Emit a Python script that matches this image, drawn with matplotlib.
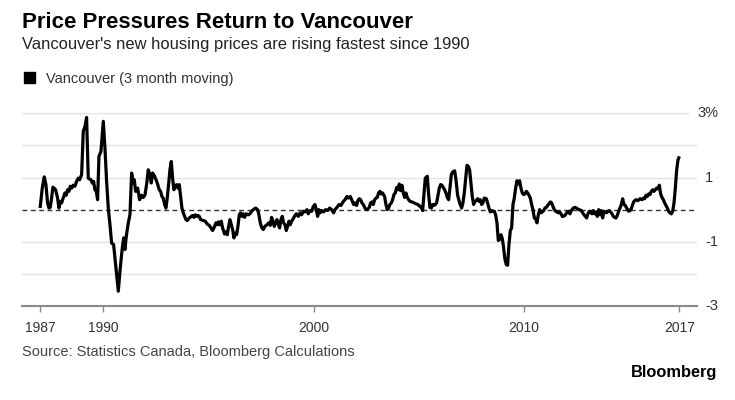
#!/usr/bin/env python3
"""Vancouver new housing price index, 3 month moving % change (Bloomberg style)."""

import matplotlib
matplotlib.use('Agg')
import matplotlib.pyplot as plt
from matplotlib.patches import Rectangle

plt.rcParams['font.family'] = ['Liberation Sans', 'DejaVu Sans']

# values (decimal year, percent)
YEARS = [
    1987.000, 1987.103, 1987.198, 1987.277, 1987.356, 1987.420, 1987.483, 1987.546, 1987.610, 1987.737,
    1987.832, 1987.895, 1987.958, 1988.022, 1988.101, 1988.180, 1988.244, 1988.307, 1988.370, 1988.434,
    1988.497, 1988.576, 1988.656, 1988.735, 1988.814, 1988.878, 1988.973, 1989.052, 1989.131, 1989.210,
    1989.290, 1989.416, 1989.480, 1989.543, 1989.607, 1989.670, 1989.733, 1989.797, 1989.892, 1990.003,
    1990.082, 1990.161, 1990.241, 1990.336, 1990.399, 1990.494, 1990.621, 1990.716, 1990.811, 1990.906,
    1990.970, 1991.033, 1991.096, 1991.192, 1991.271, 1991.350, 1991.429, 1991.477, 1991.540, 1991.635,
    1991.730, 1991.823, 1991.902, 1991.982, 1992.061, 1992.140, 1992.219, 1992.283, 1992.346, 1992.441,
    1992.505, 1992.568, 1992.663, 1992.727, 1992.790, 1992.853, 1992.917, 1992.980, 1993.043, 1993.107,
    1993.170, 1993.234, 1993.297, 1993.360, 1993.424, 1993.487, 1993.551, 1993.614, 1993.677, 1993.741,
    1993.804, 1993.868, 1993.931, 1993.994, 1994.089, 1994.185, 1994.248, 1994.311, 1994.375, 1994.438,
    1994.502, 1994.565, 1994.628, 1994.755, 1994.850, 1994.945, 1995.040, 1995.104, 1995.199, 1995.262,
    1995.357, 1995.421, 1995.484, 1995.547, 1995.611, 1995.674, 1995.769, 1995.833, 1995.896, 1995.960,
    1996.023, 1996.086, 1996.150, 1996.213, 1996.277, 1996.340, 1996.403, 1996.467, 1996.530, 1996.593,
    1996.657, 1996.720, 1996.784, 1996.893, 1996.973, 1997.052, 1997.131, 1997.242, 1997.337, 1997.401,
    1997.464, 1997.527, 1997.607, 1997.686, 1997.781, 1997.876, 1997.939, 1998.003, 1998.066, 1998.130,
    1998.193, 1998.256, 1998.320, 1998.383, 1998.447, 1998.510, 1998.573, 1998.637, 1998.700, 1998.764,
    1998.827, 1998.890, 1998.954, 1999.049, 1999.112, 1999.176, 1999.271, 1999.350, 1999.429, 1999.508,
    1999.588, 1999.683, 1999.746, 1999.825, 1999.905, 1999.984, 2000.063, 2000.126, 2000.190, 2000.253,
    2000.317, 2000.380, 2000.475, 2000.570, 2000.665, 2000.760, 2000.855, 2000.950, 2001.014, 2001.109,
    2001.204, 2001.299, 2001.394, 2001.489, 2001.584, 2001.648, 2001.743, 2001.806, 2001.901, 2001.963,
    2002.042, 2002.105, 2002.169, 2002.232, 2002.296, 2002.359, 2002.454, 2002.549, 2002.644, 2002.708,
    2002.771, 2002.834, 2002.898, 2002.961, 2003.025, 2003.088, 2003.151, 2003.215, 2003.278, 2003.373,
    2003.437, 2003.500, 2003.563, 2003.627, 2003.690, 2003.754, 2003.817, 2003.880, 2003.944, 2004.007,
    2004.071, 2004.134, 2004.197, 2004.261, 2004.324, 2004.387, 2004.451, 2004.514, 2004.578, 2004.673,
    2004.768, 2004.863, 2004.958, 2005.053, 2005.116, 2005.180, 2005.243, 2005.307, 2005.402, 2005.465,
    2005.528, 2005.592, 2005.655, 2005.719, 2005.782, 2005.845, 2005.909, 2005.972, 2006.036, 2006.099,
    2006.162, 2006.226, 2006.289, 2006.352, 2006.416, 2006.479, 2006.543, 2006.606, 2006.701, 2006.765,
    2006.843, 2006.938, 2007.033, 2007.096, 2007.160, 2007.223, 2007.287, 2007.350, 2007.413, 2007.477,
    2007.540, 2007.603, 2007.667, 2007.730, 2007.794, 2007.857, 2007.920, 2007.984, 2008.047, 2008.111,
    2008.206, 2008.269, 2008.332, 2008.396, 2008.459, 2008.523, 2008.586, 2008.649, 2008.713, 2008.776,
    2008.840, 2008.903, 2008.966, 2009.030, 2009.093, 2009.157, 2009.220, 2009.283, 2009.347, 2009.410,
    2009.474, 2009.537, 2009.600, 2009.664, 2009.727, 2009.791, 2009.854, 2009.917, 2009.981, 2010.044,
    2010.108, 2010.171, 2010.234, 2010.298, 2010.361, 2010.425, 2010.488, 2010.551, 2010.615, 2010.678,
    2010.742, 2010.805, 2010.868, 2010.932, 2010.995, 2011.058, 2011.122, 2011.185, 2011.249, 2011.312,
    2011.375, 2011.439, 2011.502, 2011.566, 2011.629, 2011.692, 2011.756, 2011.819, 2011.865, 2011.945,
    2012.024, 2012.119, 2012.182, 2012.246, 2012.341, 2012.436, 2012.531, 2012.626, 2012.721, 2012.816,
    2012.911, 2012.975, 2013.038, 2013.102, 2013.165, 2013.228, 2013.292, 2013.355, 2013.419, 2013.482,
    2013.545, 2013.609, 2013.672, 2013.736, 2013.799, 2013.862, 2013.926, 2013.989, 2014.053, 2014.116,
    2014.179, 2014.243, 2014.306, 2014.369, 2014.433, 2014.496, 2014.560, 2014.623, 2014.686, 2014.750,
    2014.813, 2014.877, 2014.972, 2015.035, 2015.098, 2015.162, 2015.225, 2015.320, 2015.415, 2015.510,
    2015.606, 2015.669, 2015.732, 2015.796, 2015.859, 2015.923, 2015.986, 2016.049, 2016.113, 2016.176,
    2016.240, 2016.303, 2016.366, 2016.430, 2016.493, 2016.556, 2016.620, 2016.683, 2016.747, 2016.810,
    2016.873, 2016.937, 2017.000, 2017.064, 2017.127, 2017.190, 2017.254, 2017.317, 2017.381,
]

PCT = [
    0.05, 0.67, 1.02, 0.78, 0.21, 0.05, 0.07, 0.36, 0.70, 0.62,
    0.36, 0.05, 0.26, 0.21, 0.36, 0.52, 0.45, 0.62, 0.57, 0.73,
    0.67, 0.76, 0.73, 0.88, 0.98, 0.93, 1.09, 2.44, 2.59, 2.87,
    0.98, 0.93, 0.83, 0.88, 0.62, 0.57, 0.31, 1.66, 1.81, 2.75,
    1.92, 0.88, 0.05, -0.57, -1.04, -1.09, -1.92, -2.54, -1.81, -1.19,
    -0.88, -1.24, -0.83, -0.41, -0.16, 1.14, 0.83, 0.93, 0.57, 0.67,
    0.31, 0.45, 0.38, 0.45, 0.78, 1.24, 1.09, 0.83, 1.14, 1.04,
    0.93, 0.83, 0.62, 0.57, 0.41, 0.36, 0.16, 0.05, 0.36, 0.78,
    1.24, 1.50, 0.98, 0.62, 0.73, 0.78, 0.67, 0.78, 0.41, 0.05,
    -0.10, -0.21, -0.31, -0.34, -0.26, -0.21, -0.18, -0.24, -0.16, -0.21,
    -0.18, -0.21, -0.31, -0.34, -0.36, -0.45, -0.49, -0.55, -0.65, -0.57,
    -0.41, -0.47, -0.38, -0.47, -0.36, -0.57, -0.76, -0.69, -0.78, -0.52,
    -0.31, -0.47, -0.62, -0.88, -0.73, -0.78, -0.52, -0.16, -0.10, -0.21,
    -0.13, -0.24, -0.13, -0.16, -0.13, -0.05, 0.00, 0.05, 0.00, -0.16,
    -0.41, -0.55, -0.62, -0.52, -0.47, -0.41, -0.49, -0.24, -0.36, -0.52,
    -0.41, -0.31, -0.45, -0.57, -0.31, -0.21, -0.41, -0.47, -0.65, -0.52,
    -0.36, -0.47, -0.36, -0.26, -0.18, -0.13, -0.21, -0.10, -0.16, -0.05,
    -0.07, 0.00, -0.13, -0.03, -0.05, 0.10, 0.16, 0.00, -0.21, 0.00,
    -0.10, -0.03, -0.07, 0.00, -0.03, 0.05, 0.00, -0.10, 0.00, 0.07,
    0.16, 0.13, 0.24, 0.31, 0.41, 0.36, 0.41, 0.31, 0.16, 0.21,
    0.13, 0.28, 0.34, 0.31, 0.21, 0.16, 0.03, 0.00, 0.07, 0.21,
    0.24, 0.16, 0.31, 0.36, 0.38, 0.52, 0.57, 0.49, 0.52, 0.41,
    0.16, 0.00, 0.05, 0.16, 0.21, 0.31, 0.47, 0.52, 0.69, 0.62,
    0.80, 0.59, 0.76, 0.52, 0.38, 0.52, 0.38, 0.31, 0.26, 0.24,
    0.21, 0.18, 0.16, 0.10, 0.07, -0.03, 0.47, 0.98, 1.04, 0.47,
    0.07, 0.05, 0.16, 0.13, 0.16, 0.21, 0.45, 0.67, 0.78, 0.76,
    0.69, 0.62, 0.52, 0.38, 0.31, 0.67, 1.09, 1.17, 1.21, 0.93,
    0.45, 0.21, 0.05, 0.21, 0.52, 0.93, 1.38, 1.35, 1.24, 0.83,
    0.41, 0.16, 0.26, 0.28, 0.34, 0.26, 0.31, 0.16, 0.21, 0.36,
    0.34, 0.21, 0.05, -0.07, -0.03, -0.05, -0.05, -0.16, -0.41, -0.96,
    -0.93, -0.78, -0.90, -1.19, -1.55, -1.71, -1.73, -1.09, -0.65, -0.57,
    0.16, 0.36, 0.67, 0.90, 0.80, 0.90, 0.67, 0.52, 0.47, 0.49,
    0.57, 0.52, 0.45, 0.36, 0.16, 0.00, -0.26, -0.28, -0.41, -0.16,
    0.00, -0.10, -0.07, -0.03, 0.05, 0.07, 0.13, 0.18, 0.24, 0.21,
    0.10, 0.00, -0.05, -0.07, -0.10, -0.07, -0.13, -0.21, -0.21, -0.18,
    -0.10, -0.05, -0.13, -0.03, 0.05, 0.07, 0.03, 0.00, -0.03, -0.13,
    -0.21, -0.26, -0.13, -0.05, -0.07, -0.13, -0.03, -0.13, -0.07, -0.21,
    0.00, -0.16, -0.03, -0.26, -0.05, -0.07, -0.10, -0.05, -0.03, -0.07,
    -0.13, -0.21, -0.24, -0.26, -0.18, -0.05, 0.05, 0.16, 0.34, 0.16,
    0.13, 0.05, -0.05, -0.03, 0.03, 0.16, 0.26, 0.31, 0.28, 0.34,
    0.31, 0.36, 0.34, 0.45, 0.41, 0.49, 0.47, 0.57, 0.62, 0.57,
    0.62, 0.67, 0.65, 0.76, 0.49, 0.38, 0.31, 0.21, 0.13, 0.05,
    -0.05, -0.10, -0.13, -0.05, 0.21, 0.67, 1.24, 1.55, 1.66,
]

X_TICKS = [1987, 1990, 2000, 2010, 2017.38]
X_TICK_LABELS = ['1987', '1990', '2000', '2010', '2017']
GRID_LEVELS = [-2, -1, 1, 2, 3]
Y_LABEL_LEVELS = [3, 1, -1, -3]
Y_LABELS = ['3%', '1', '-1', '-3']

W, H = 735, 400


def main():
    fig = plt.figure(figsize=(W / 100, H / 100), dpi=100)
    ax_l, ax_r, ax_t, ax_b = 22, 697, 113.3, 306
    ax = fig.add_axes([ax_l / W, 1 - ax_b / H, (ax_r - ax_l) / W, (ax_b - ax_t) / H])
    ax.set_xlim(1986.14, 2018.22)
    ax.set_ylim(-3, 3)

    for lv in GRID_LEVELS:
        xmax = (688 - ax_l) / (ax_r - ax_l) if lv == 3 else 1.0
        ax.axhline(lv, xmax=xmax, color='#e3e3e3', lw=1.0, zorder=1)
    ax.axhline(0, color='#333333', lw=1.0, ls=(0, (3.5, 2.5)), zorder=2)

    ax.plot(YEARS, PCT, color='black', lw=2.3, solid_joinstyle='round',
            solid_capstyle='butt', clip_on=False, zorder=3)

    for side in ('top', 'left', 'right'):
        ax.spines[side].set_visible(False)
    ax.spines['bottom'].set_color('#8a8a8a')
    ax.spines['bottom'].set_linewidth(1.5)
    ax.set_yticks([])
    ax.set_xticks(X_TICKS)
    ax.set_xticklabels(X_TICK_LABELS)
    ax.tick_params(axis='x', direction='out', length=4, width=1.0, color='#8a8a8a',
                   labelsize=10, labelcolor='#333333', pad=7)

    ytr = ax.get_yaxis_transform()
    for lv, lab in zip(Y_LABEL_LEVELS, Y_LABELS):
        x = 1.0 if lab.endswith('%') else (705 - ax_l) / (ax_r - ax_l)
        ax.text(x, lv, lab, transform=ytr, ha='left', va='center',
                fontsize=10.5, color='#333333')

    fig.text(22 / W, 1 - 28.3 / H, 'Price Pressures Return to Vancouver',
             fontsize=16, fontweight='bold', color='black', va='baseline')
    fig.text(22 / W, 1 - 49.3 / H, "Vancouver's new housing prices are rising fastest since 1990",
             fontsize=11.9, color='#222222', va='baseline')
    fig.add_artist(Rectangle((24 / W, 1 - 83.3 / H), 11 / W, 11 / H,
                             transform=fig.transFigure, color='black'))
    fig.text(46 / W, 1 - 83.3 / H, 'Vancouver (3 month moving)',
             fontsize=10.5, color='#333333', va='baseline')
    fig.text(22 / W, 1 - 356 / H, 'Source: Statistics Canada, Bloomberg Calculations',
             fontsize=10.5, color='#444444', va='baseline')
    fig.text(717 / W, 1 - 377 / H, 'Bloomberg',
             fontsize=11.8, fontweight='bold', color='black', ha='right', va='baseline')

    fig.savefig('out.png', dpi=100, facecolor='white')
    plt.close(fig)


if __name__ == '__main__':
    main()
